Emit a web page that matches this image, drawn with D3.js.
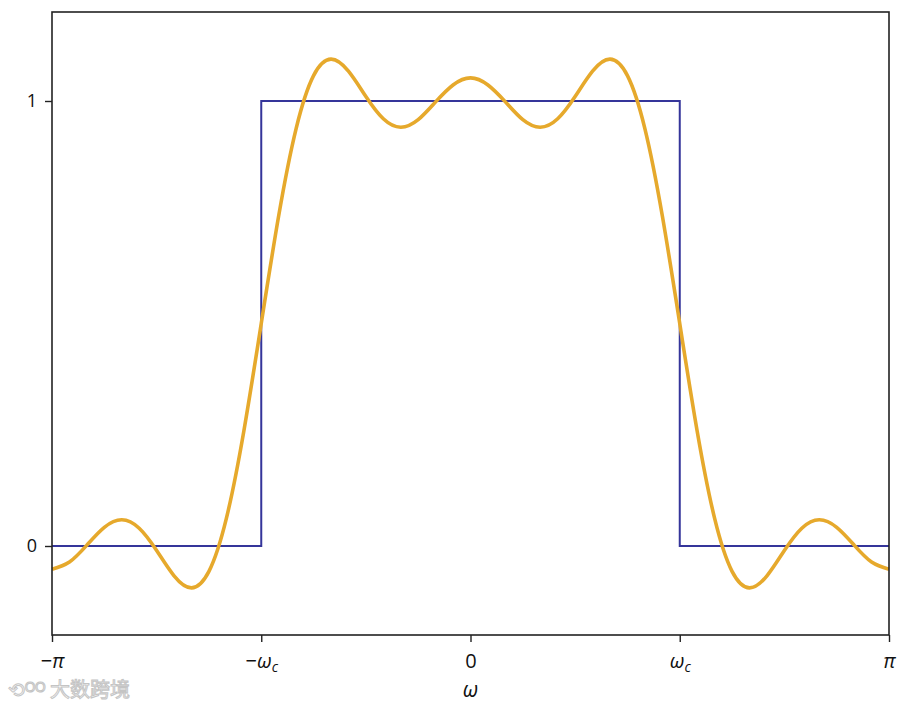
<!DOCTYPE html>
<html><head><meta charset="utf-8">
<script src="https://cdn.jsdelivr.net/npm/d3@7"></script>
<style>
body{margin:0;background:#fff;}
svg{display:block;}
text{font-family:"Open Sans","DejaVu Sans",sans-serif;}
</style></head>
<body>
<div id="chart"></div>
<script>
// Ideal low-pass response (blue step) and its truncated approximation (orange),
// sampled every pi/24 from -pi to pi (values read off the figure).
const omegaSteps = d3.range(-24, 25); // multiples of pi/24
const approxValues = [
 -0.052,-0.036, 0.002, 0.042, 0.059, 0.040,-0.010,-0.067,-0.094,-0.057, 0.062, 0.258,
  0.500, 0.742, 0.938, 1.057, 1.094, 1.067, 1.010, 0.960, 0.941, 0.958, 0.998, 1.036,
  1.052,
  1.036, 0.998, 0.958, 0.941, 0.960, 1.010, 1.067, 1.094, 1.057, 0.938, 0.742, 0.500,
  0.258, 0.062,-0.057,-0.094,-0.067,-0.010, 0.040, 0.059, 0.042, 0.002,-0.036,-0.052
];
const idealX = [-Math.PI, -Math.PI/2, -Math.PI/2, Math.PI/2, Math.PI/2, Math.PI];
const idealY = [0, 0, 1, 1, 0, 0];
const xTickValues = [-Math.PI, -Math.PI/2, 0, Math.PI/2, Math.PI];
const xTickLabels = [["−","π",""],["−","ω","c"],["","0",""],["","ω","c"],["","π",""]];
const yTickValues = [0, 1];
const yTickLabels = ["0", "1"];

const W = 923, H = 705;
const m = {left: 52, right: 34, top: 12, bottom: 70};
const svg = d3.select("#chart").append("svg").attr("width", W).attr("height", H);

const x = d3.scaleLinear().domain([-Math.PI, Math.PI]).range([m.left, W - m.right]);
const y = d3.scaleLinear().domain([-0.2, 1.2]).range([H - m.bottom, m.top]);

const g = svg.append("g");

// blue ideal response
const ideal = idealX.map((v, i) => [v, idealY[i]]);
g.append("path").datum(ideal)
  .attr("fill", "none").attr("stroke", "#35359a").attr("stroke-width", 2)
  .attr("d", d3.line().x(d => x(d[0])).y(d => y(d[1])));

// orange approximation
const approx = omegaSteps.map((k, i) => [k * Math.PI / 24, approxValues[i]]);
g.append("path").datum(approx)
  .attr("fill", "none").attr("stroke", "#e6a92c").attr("stroke-width", 3.6)
  .attr("stroke-linejoin", "round")
  .attr("d", d3.line().x(d => x(d[0])).y(d => y(d[1])).curve(d3.curveNatural));

// frame
svg.append("rect").attr("x", m.left).attr("y", m.top)
  .attr("width", W - m.left - m.right).attr("height", H - m.top - m.bottom)
  .attr("fill", "none").attr("stroke", "#222").attr("stroke-width", 1.6);

// x axis
const xAxis = svg.append("g").attr("transform", `translate(0,${H - m.bottom})`)
  .call(d3.axisBottom(x).tickValues(xTickValues).tickSize(7).tickFormat(""));
xAxis.select(".domain").remove();
xAxis.selectAll(".tick line").attr("stroke", "#222").attr("stroke-width", 1.4);
xAxis.selectAll(".tick").each(function(d, i) {
  const lab = xTickLabels[i];
  const t = d3.select(this).append("text").attr("y", 33).attr("text-anchor", "middle")
    .attr("fill", "#111").style("font-size", "20px");
  if (lab[0]) t.append("tspan").text(lab[0]);
  t.append("tspan").style("font-style", lab[1] === "0" ? "normal" : "italic").text(lab[1]);
  if (lab[2]) t.append("tspan").attr("dy", 4).style("font-size", "14px").style("font-style", "italic").text(lab[2]);
});

// y axis
const yAxis = svg.append("g").attr("transform", `translate(${m.left},0)`)
  .call(d3.axisLeft(y).tickValues(yTickValues).tickSize(7).tickFormat((d, i) => yTickLabels[i]));
yAxis.select(".domain").remove();
yAxis.selectAll(".tick line").attr("stroke", "#222").attr("stroke-width", 1.4);
yAxis.selectAll(".tick text").attr("x", -15).attr("fill", "#111")
  .style("font-size", "18px").style("font-family", "'Open Sans',sans-serif");

// x label
svg.append("text").attr("x", x(0)).attr("y", 697).attr("text-anchor", "middle")
  .attr("fill", "#111").style("font-size", "21px").style("font-style", "italic").text("ω");

// watermark
svg.append("text").attr("x", 8).attr("y", 697).attr("fill", "#fff")
  .attr("stroke", "#c4c4c4").attr("stroke-width", 1)
  .style("font-size", "20px").style("font-family", "'Noto Sans CJK SC',sans-serif")
  .text("⟲ᴼᴼ 大数跨境");
</script>
</body></html>
